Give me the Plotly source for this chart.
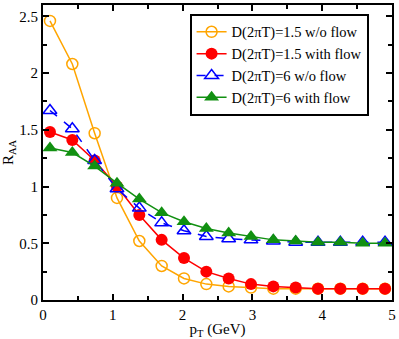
import plotly.graph_objects as go

pt = [0.1, 0.42, 0.74, 1.06, 1.38, 1.7, 2.02, 2.34, 2.66, 2.98, 3.3, 3.62, 3.94, 4.26, 4.58, 4.9]

raa_15_noflow = [2.46, 2.08, 1.47, 0.9, 0.52, 0.3, 0.19, 0.14, 0.12, 0.11, 0.1, 0.1, 0.1, 0.1, 0.1, 0.1]
raa_15_flow = [1.48, 1.41, 1.23, 1.0, 0.75, 0.53, 0.37, 0.25, 0.19, 0.14, 0.12, 0.11, 0.1, 0.1, 0.1, 0.1]
raa_6_noflow = [1.67, 1.51, 1.23, 0.98, 0.81, 0.68, 0.61, 0.56, 0.54, 0.53, 0.52, 0.51, 0.51, 0.51, 0.51, 0.51]
raa_6_flow = [1.34, 1.3, 1.18, 1.03, 0.89, 0.77, 0.69, 0.63, 0.59, 0.56, 0.53, 0.52, 0.51, 0.51, 0.5, 0.5]

names = ["D(2πT)=1.5 w/o flow", "D(2πT)=1.5 with flow",
         "D(2πT)=6 w/o flow", "D(2πT)=6 with flow"]

font = "Times New Roman"

fig = go.Figure()
fig.add_trace(go.Scatter(x=pt, y=raa_15_noflow, name=names[0], mode="lines+markers",
                         line=dict(color="#FFA500", width=1.5),
                         marker=dict(symbol="circle-open", size=11, color="#FFA500", line=dict(width=1.5))))
fig.add_trace(go.Scatter(x=pt, y=raa_15_flow, name=names[1], mode="lines+markers",
                         line=dict(color="#FF0000", width=1.5),
                         marker=dict(symbol="circle", size=12, color="#FF0000")))
fig.add_trace(go.Scatter(x=pt, y=raa_6_noflow, name=names[2], mode="lines+markers",
                         line=dict(color="#0000FF", width=1.5, dash="dash"),
                         marker=dict(symbol="triangle-up-open", size=12, color="#0000FF", line=dict(width=1.5))))
fig.add_trace(go.Scatter(x=pt, y=raa_6_flow, name=names[3], mode="lines+markers",
                         line=dict(color="#119011", width=1.5),
                         marker=dict(symbol="triangle-up", size=13, color="#119011")))

axis_common = dict(showline=True, linecolor="black", linewidth=2, mirror="allticks",
                   ticks="inside", ticklen=6, tickwidth=2, tickcolor="black",
                   showgrid=False, zeroline=False,
                   tickfont=dict(family=font, size=15, color="black"))

fig.update_xaxes(range=[0, 5], dtick=1,
                 title=dict(text="p<sub>T</sub> (GeV)", font=dict(family=font, size=15), standoff=2),
                 minor=dict(ticks="inside", ticklen=4, tickwidth=2, dtick=0.5, tickcolor="black"),
                 **axis_common)
fig.update_yaxes(range=[0, 2.6], tickvals=[0, 0.5, 1, 1.5, 2, 2.5],
                 ticktext=["0", "0.5", "1", "1.5", "2", "2.5"],
                 title=dict(text="R<sub>AA</sub>", font=dict(family=font, size=15), standoff=4),
                 minor=dict(ticks="inside", ticklen=4, tickwidth=2,
                            tickvals=[0.25, 0.75, 1.25, 1.75, 2.25], tickcolor="black"),
                 **axis_common)

fig.update_layout(
    width=399, height=339,
    margin=dict(l=43, r=6, t=3, b=37),
    plot_bgcolor="white", paper_bgcolor="white",
    font=dict(family=font, size=15, color="black"),
    legend=dict(x=0.42, y=0.97, xanchor="left", yanchor="top",
                bgcolor="white", bordercolor="black", borderwidth=2,
                font=dict(family=font, size=14.5), tracegroupgap=0, itemwidth=30,
                traceorder="normal"),
)

fig.write_html("out.html", config={"displayModeBar": False},
               post_script="document.body.style.margin='0';")
